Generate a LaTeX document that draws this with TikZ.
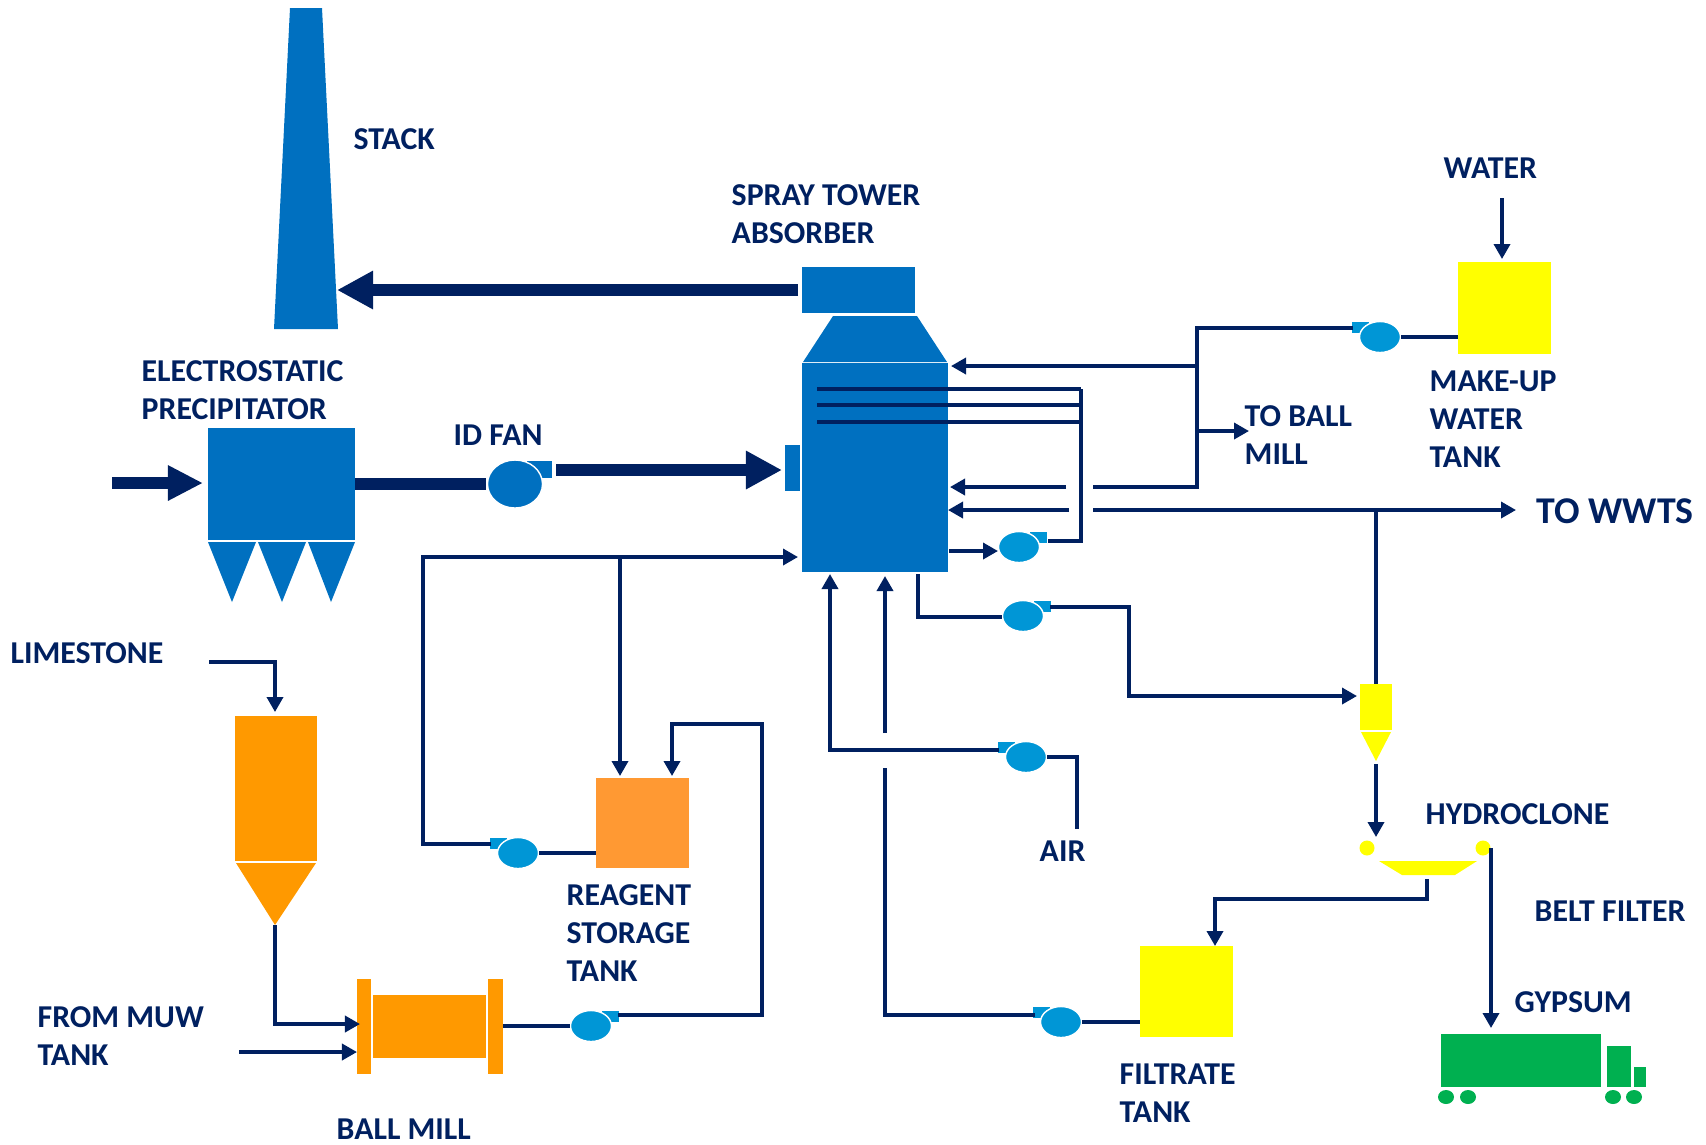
\documentclass[tikz,border=0pt]{standalone}
\usepackage{fontspec}
\setmainfont{Carlito}
\usetikzlibrary{arrows.meta,shapes.geometric}
\definecolor{navy}{HTML}{002060}
\definecolor{towerblue}{HTML}{0070C0}
\definecolor{pumpblue}{HTML}{0096D6}
\definecolor{limeorange}{HTML}{FF9900}
\definecolor{reagentorange}{HTML}{FF9933}
\definecolor{tankyellow}{HTML}{FFFF00}
\definecolor{truckgreen}{HTML}{00B050}
\tikzset{>={Triangle[length=.15cm,width=.16cm]},
unit/.style={inner sep=0pt,outer sep=0pt},
pipe/.style={navy,line width=.035cm},
duct/.style={navy,line width=.12cm,-{Triangle[length=.36cm,width=.36cm]}},
lab/.style={anchor=west,align=left,inner sep=0pt,text=navy,font=\fontsize{9.05}{10.8}\selectfont\bfseries}}
% pump: name, x, y, side of the horn (1 right, -1 left)
\newcommand{\pumpnode}[4]{\fill[pumpblue] ({#2+11*#4},{#3-15}) rectangle ({#2+28*#4},{#3-4});\node[ellipse,unit,fill=pumpblue,draw=white,line width=.4pt,minimum width=.41cm,minimum height=.31cm] (#1) at (#2,#3){};}
\newcommand{\tank}[6]{\node[unit,fill=#6,minimum width=#4cm,minimum height=#5cm] (#1) at (#2,#3){};}
\begin{document}
\begin{tikzpicture}[x=.01cm,y=-.01cm]
\useasboundingbox (0,0) rectangle (1706,1144);
% stack and precipitator
\fill[towerblue] (290,8)--(322,8)--(338,329)--(274,329)--cycle;
\tank{esp}{281.5}{484}{1.47}{1.12}{towerblue}
\fill[towerblue] (208,542)--(256,542)--(232,602)--cycle;\fill[towerblue] (258,542)--(306,542)--(282,602)--cycle;\fill[towerblue] (308,542)--(355,542)--(331,602)--cycle;
% absorber
\tank{abstop}{858.5}{290}{1.13}{.46}{towerblue}\tank{absorber}{875}{467.5}{1.46}{2.09}{towerblue}\tank{absin}{792.5}{468}{.15}{.46}{towerblue}
\fill[towerblue] (833,316)--(917,316)--(947,362)--(803,362)--cycle;
% tanks
\tank{silo}{276}{788.5}{.82}{1.45}{limeorange}\fill[limeorange] (236,863)--(316,863)--(275,925)--cycle;
\tank{flangeL}{364}{1026.5}{.14}{.95}{limeorange}\tank{mill}{429.5}{1026.5}{1.13}{.63}{limeorange}\tank{flangeR}{495.5}{1026.5}{.15}{.95}{limeorange}
\tank{reagent}{642.5}{823}{.93}{.90}{reagentorange}
\tank{makeup}{1504.5}{308}{.93}{.92}{tankyellow}\tank{filtrate}{1186.5}{991.5}{.93}{.91}{tankyellow}
\tank{cyclone}{1376}{707}{.32}{.46}{tankyellow}\fill[tankyellow] (1361,732)--(1391,732)--(1376,761)--cycle;
\node[circle,unit,fill=tankyellow,minimum size=.15cm] (inletL) at (1367,848){};\node[circle,unit,fill=tankyellow,minimum size=.15cm] (inletR) at (1483,848){};
\fill[tankyellow] (1379,861)--(1477,861)--(1455,875)--(1402,875)--cycle;
% truck
\tank{truck}{1521}{1060}{1.60}{.53}{truckgreen}\tank{cab}{1619}{1066}{.24}{.41}{truckgreen}\tank{hood}{1640}{1076.5}{.12}{.20}{truckgreen}
\foreach \wx in {1446,1468,1613,1634} \fill[truckgreen] (\wx,1097) ellipse (8 and 7);
% pumps
\fill[towerblue] (527,461) rectangle (552,478);\node[ellipse,unit,fill=towerblue,draw=white,minimum width=.55cm,minimum height=.48cm] (idfan) at (515,484){};
\pumpnode{pumpA}{1019}{547}{1}\pumpnode{pumpB}{1023}{616}{1}\pumpnode{pumpC}{591}{1026}{1}
\pumpnode{pumpD}{518}{853}{-1}\pumpnode{pumpE}{1026}{757}{-1}\pumpnode{pumpF}{1061}{1022}{-1}\pumpnode{pumpG}{1380}{337}{-1}
% gas path
\coordinate (gasin) at (112,483);\coordinate (gastip) at (203,483);\coordinate (espout) at (355,484);\coordinate (fanin) at (486,484);\coordinate (fanout) at (556,470);\coordinate (absgas) at (782,470);\coordinate (stacktip) at (337,290);\coordinate (topout) at (798,290);
\draw[duct,-{Triangle[length=.35cm,width=.33cm]}] (gasin)--(gastip);\draw[navy,line width=.12cm] (espout)--(fanin);\draw[duct] (fanout)--(absgas);\draw[duct] (topout)--(stacktip);
% spray headers
\foreach \hy in {389,405,422} \draw[pipe] (817,\hy)--(1081,\hy);
\coordinate (hdrtop) at (1081,389);\coordinate (pumpAout) at (1048,541);\draw[pipe] (hdrtop)--(1081,541)--(pumpAout);
\coordinate (absA) at (949,551);\draw[pipe,->] (absA)--(998,551);
% make-up water
\coordinate (waterin) at (1502,198);\draw[pipe,->] (waterin)--(1502,259);
\draw[pipe] (makeup.west|-pumpG)--(1401,337);
\coordinate (pumpGout) at (1353,328);\coordinate (tee) at (1197,366);\draw[pipe] (pumpGout)--(1197,328)--(1197,487)--(1093,487);
\draw[pipe,->] (tee)--(951,366);\draw[pipe,->] (1197,431)--(1249,431);
\coordinate (stubA) at (1066,487);\coordinate (stubB) at (1069,510);\draw[pipe,->] (stubA)--(950,487);\draw[pipe,->] (stubB)--(948,510);
% waste water and hydroclone
\coordinate (wwts) at (1516,510);\coordinate (wwtsfrom) at (1093,510);\draw[pipe,->] (wwtsfrom)--(wwts);
\draw[pipe] (1376,510)--(cyclone.north);
\coordinate (cycout) at (1376,764);\draw[pipe,->] (cycout)--(1376,837);
\coordinate (bleed) at (918,574);\draw[pipe] (bleed)--(918,617)--(1002,617);
\coordinate (pumpBout) at (1050,607);\draw[pipe,->] (pumpBout)--(1129,607)--(1129,696)--(1357,696);
\coordinate (under) at (1427,879);\draw[pipe,->] (under)--(1427,899)--(1215,899)--(1215,946);
\draw[pipe,->] (1491,848)--(1491,1028);
% filtrate and air
\draw[pipe] (filtrate.west|-pumpF)--(1082,1022);
\coordinate (pumpFout) at (1035,1015);\coordinate (gapB) at (885,768);\draw[pipe] (pumpFout)--(885,1015)--(gapB);
\coordinate (gapT) at (885,733);\draw[pipe,->] (gapT)--(885,576);
\coordinate (airin) at (1077,829);\coordinate (pumpEout) at (999,750);\draw[pipe] (airin)--(1077,757)--(1047,757);\draw[pipe,->] (pumpEout)--(830,750)--(830,574);
% limestone and reagent
\coordinate (limein) at (209,662);\draw[pipe,->] (limein)--(275,662)--(275,712);
\coordinate (coneout) at (275,925);\draw[pipe,->] (coneout)--(275,1024)--(360,1024);
\coordinate (muw) at (239,1052);\draw[pipe,->] (muw)--(357,1052);
\draw[pipe] (flangeR.east|-pumpC)--(570,1026);
\coordinate (pumpCout) at (618,1015);\draw[pipe,->] (pumpCout)--(762,1015)--(762,724)--(672,724)--(672,776);
\draw[pipe] (reagent.west|-pumpD)--(539,853);
\coordinate (pumpDout) at (491,844);\draw[pipe,->] (pumpDout)--(423,844)--(423,557)--(798,557);
\draw[pipe,->] (620,557)--(620,776);
% labels
\node[lab] (lstack) at (353,139){STACK};
\node[lab] (lspray) at (731,214){SPRAY TOWER\\ABSORBER};
\node[lab] (lwater) at (1443,168){WATER};
\node[lab] (lesp) at (141,390){ELECTROSTATIC\\PRECIPITATOR};
\node[lab] (lfan) at (453,435){ID FAN};
\node[lab] (lball) at (1244,435){TO BALL\\MILL};
\node[lab] (lmakeup) at (1429,419){MAKE-UP\\WATER\\TANK};
\node[lab,font=\fontsize{10.75}{13}\selectfont\bfseries] (lwwts) at (1536,511){TO WWTS};
\node[lab] (llime) at (10,653){LIMESTONE};
\node[lab] (lreagent) at (566,933){REAGENT\\STORAGE\\TANK};
\node[lab] (lair) at (1039,851){AIR};
\node[lab] (lhydro) at (1425,814){HYDROCLONE};
\node[lab] (lbelt) at (1534,911){BELT FILTER};
\node[lab] (lgyp) at (1514,1002){GYPSUM};
\node[lab] (lmuw) at (37,1036){FROM MUW\\TANK};
\node[lab] (lmill) at (336,1129){BALL MILL};
\node[lab] (lfilt) at (1119,1093){FILTRATE\\TANK};
\end{tikzpicture}
\end{document}
